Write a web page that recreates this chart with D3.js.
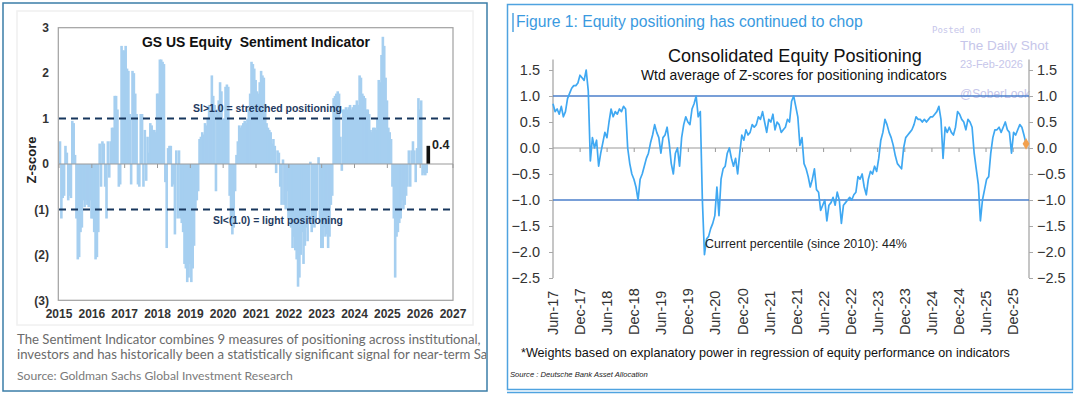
<!DOCTYPE html>
<html><head><meta charset="utf-8">
<script src="https://cdn.jsdelivr.net/npm/d3@7"></script>
<style>
body{margin:0;background:#fff;}
svg{display:block;}
</style></head><body>
<svg id="c" width="1077" height="397"></svg>
<script>
// ---------- Left chart: GS US Equity Sentiment Indicator (semi-monthly) ----------
const gsYearTicks = [2015,2016,2017,2018,2019,2020,2021,2022,2023,2024,2025,2026,2027];
const gsZTicks = [3,2,1,0,-1,-2,-3];
const gs2015 = [0.5,-1.2,-0.75,-0.7,0.4,0.25,-0.8,-0.7,-0.75,0.95,0.9,0.2,-1.2,-2.1,-2.05,-1.5,-1.4,-0.8,-0.95,-0.8,-0.9,-0.95,-0.8,-1.2];
const gs2016 = [-1.2,-1.5,-2.1,-2.05,-1.5,0.45,-0.5,0.5,0.45,-0.5,-1.2,0.5,-0.3,0.5,0.8,0.8,1.5,1.5,1.2,-0.5,-0.45,2.6,2.5,2.5];
const gs2017 = [2.6,2.1,2.05,1.1,-0.45,2.05,2.0,1.55,1.1,-0.45,-0.5,1.1,1.1,-0.5,0.75,-0.37,0.6,0.25,0.9,0.85,0.75,0.75,0.7,1.55];
const gs2018 = [1.55,2.3,2.3,2.25,2.2,-0.4,-1.85,0.35,0.4,0.4,-0.5,-0.45,-1.55,0.3,-1.2,0.3,-1.2,-1.3,-1.5,-2.2,-2.3,-2.6,-2.5,-2.2];
const gs2019 = [-2.6,-2.3,-1.8,-1.0,-0.8,-0.6,0.55,0.6,0.7,0.65,0.9,0.85,1.0,1.3,1.2,1.95,1.5,1.3,-0.6,1.2,1.4,1.8,1.6,1.0];
const gs2020 = [1.0,1.7,1.75,1.7,-0.7,-1.3,-1.55,-1.4,-0.6,0.2,0.5,0.85,0.8,0.85,0.9,0.95,0.9,1.0,1.2,1.55,2.25,2.2,2.1,1.85];
const gs2021 = [1.6,1.55,1.8,2.05,1.95,1.9,1.2,0.9,0.8,0.75,0.7,0.45,0.55,0.4,-0.2,0.3,0.25,-0.5,-0.9,0.1,-0.9,-1.0,-0.6,-1.2];
const gs2022 = [-1.2,-1.4,-1.85,-1.6,-1.9,-2.1,-2.7,-2.5,-2.0,-1.5,-2.2,-1.8,-1.4,-1.7,-1.2,0.05,-1.5,-1.3,-1.4,-1.2,-1.0,0.15,-1.3,-1.85];
const gs2023 = [-1.85,-1.4,-1.6,-1.55,-1.85,-1.6,-0.9,-0.7,1.45,1.5,1.55,1.6,1.55,0.6,-0.15,1.2,1.2,1.25,1.2,1.25,1.3,1.2,1.25,1.3];
const gs2024 = [1.3,1.4,1.3,1.95,1.9,1.55,1.5,1.45,1.2,1.2,1.1,0.75,0.7,0.8,0.8,0.75,1.0,1.85,1.8,2.4,2.8,2.6,1.9,1.4];
const gs2025 = [0.8,0.7,0.55,-0.5,-1.2,-2.5,-1.6,-1.5,-1.3,-1.2,-0.8,-1.0,-0.9,-0.7,-0.5,0.3,-0.5,0.3,0.5,0.3,-0.4,0.35,1.45,1.2];
const gs2026 = [1.4,-0.25,-0.2,-0.25,-0.2];
const gsCurrent = 0.4;
const gsStartYear = 2015, gsPerYear = 24;

// ---------- Right chart: DB Consolidated Equity Positioning (bi-weekly) ----------
const dbXLabels = ["Jun-17","Dec-17","Jun-18","Dec-18","Jun-19","Dec-19","Jun-20","Dec-20","Jun-21","Dec-21","Jun-22","Dec-22","Jun-23","Dec-23","Jun-24","Dec-24","Jun-25","Dec-25"];
const dbYTicks = [1.5,1.0,0.5,0.0,-0.5,-1.0,-1.5,-2.0,-2.5];
const dbBands = [1.0,-1.0];
const db2017_19 = [0.85,0.7,0.75,0.65,0.8,0.6,0.7,0.95,1.05,1.15,1.2,1.2,1.25,1.4,1.35,1.3,1.5,1.1,-0.25,0.2,0.0,0.15,-0.35,-0.1,0.1,0.3,0.2,0.5,0.75,0.6,0.7,0.65,0.75,0.7,0.8,0.75,0.0,-0.3,-0.5,-0.6,-0.75,-1.0,-0.6,-0.5,-0.35,-0.2,-0.1,0.1,0.25,0.45,0.3,0.2,-0.1,0.2,0.25,0.4,0.1,-0.3,-0.5,-0.1,0.0,-0.35,0.2,0.45];
const db2019_22 = [0.6,0.5,0.45,0.75,0.85,1.0,0.6,0.7,-1.0,-2.05,-1.75,-1.7,-1.55,-1.45,-1.3,-0.75,-1.3,-0.6,-0.4,-0.35,-0.1,0.0,-0.2,-0.35,-0.2,-0.5,-0.1,0.25,0.15,0.35,0.25,0.3,0.45,0.4,0.45,0.6,0.55,0.7,0.5,0.3,0.55,0.5,0.65,0.35,0.5,0.45,0.3,0.35,0.4,0.55,0.5,0.9,1.0,0.8,0.6,0.05,0.2,-0.3,-0.4,-0.55,-0.75,-0.6,-0.4,-0.8,-0.85,-1.2,-1.1,-1.0,-1.4,-1.1,-1.05,-0.95,-1.1,-0.85,-1.0,-1.45,-1.1,-1.05,-1.0,-0.95,-1.0,-0.9,-0.85,-0.55];
const db2023_26 = [-0.6,-0.5,-0.75,-0.9,-0.6,-0.45,-0.5,-0.35,-0.45,-0.2,0.15,0.3,0.55,0.45,0.3,0.2,0.05,-0.15,-0.3,-0.35,-0.4,0.0,0.2,0.25,0.3,0.35,0.45,0.6,0.55,0.55,0.5,0.55,0.5,0.55,0.6,0.6,0.65,0.7,0.8,0.55,-0.2,0.4,0.3,0.4,0.3,0.25,0.4,0.7,0.65,0.55,0.5,0.35,0.55,0.5,0.4,-0.1,-0.4,-0.7,-1.4,-1.0,-0.8,-0.6,-0.55,-0.1,0.2,0.35,0.35,0.4,0.3,0.4,0.5,0.35,0.3,-0.1,0.3,0.25,0.35,0.45,0.4,0.25,0.08];
const dbStart = new Date(2017, 5, 1), dbStepDays = 14;

// ================= drawing =================
const svg = d3.select("#c");
const ARIAL = "'Liberation Sans', Arial, sans-serif";

function fit(sel, target){
  const w = sel.node().getComputedTextLength();
  const fs = parseFloat(sel.attr("font-size"));
  sel.attr("font-size", (fs*target/w).toFixed(2));
}

// ----- Left panel -----
const L = svg.append("g");
L.append("rect").attr("x",3).attr("y",3).attr("width",484).attr("height",388)
  .attr("fill","#fff").attr("stroke","#3b7ea8").attr("stroke-width",1.5);
L.append("rect").attr("x",17).attr("y",11).attr("width",456).attr("height",314)
  .attr("fill","#fff").attr("stroke","#f0f0f0").attr("stroke-width",1.5);

const gsValues = [].concat(gs2015,gs2016,gs2017,gs2018,gs2019,gs2020,gs2021,gs2022,gs2023,gs2024,gs2025,gs2026);
const gx = d3.scaleLinear().domain([2015,2027]).range([59,453]);
const gy = d3.scaleLinear().domain([-3,3]).range([300.3,27.7]);

// bars
L.append("g").selectAll("rect").data(gsValues).join("rect")
  .attr("x",(d,i)=>gx(gsStartYear + i/gsPerYear)-0.3)
  .attr("width",2.6)
  .attr("y",d=>Math.min(gy(d),gy(0)))
  .attr("height",d=>Math.abs(gy(d)-gy(0)))
  .attr("fill","#a6cff0");
const curYear = gsStartYear + gsValues.length/gsPerYear;
L.append("rect").attr("x",gx(curYear)-0.5).attr("width",3.6)
  .attr("y",gy(gsCurrent)).attr("height",gy(0)-gy(gsCurrent)).attr("fill","#111");
L.append("text").attr("x",gx(curYear)+5).attr("y",gy(gsCurrent)+3)
  .attr("font-family",ARIAL).attr("font-weight","bold").attr("font-size",12.5).attr("fill","#222").text("0.4");

// frame
L.append("rect").attr("x",gx(2015)-0.7).attr("y",gy(3)).attr("width",gx(2027)-gx(2015)+0.7).attr("height",gy(-3)-gy(3))
  .attr("fill","none").attr("stroke","#a0a0a0").attr("stroke-width",1.2);
// zero axis
L.append("line").attr("x1",gx(2015)).attr("x2",gx(2027)).attr("y1",gy(0)).attr("y2",gy(0)).attr("stroke","#999").attr("stroke-width",1.2);
L.append("g").selectAll("line").data(gsYearTicks).join("line")
  .attr("x1",d=>gx(d)).attr("x2",d=>gx(d)).attr("y1",gy(0)).attr("y2",gy(0)+4).attr("stroke","#999");
// dashed thresholds
[1,-1].forEach(v=>{
  L.append("line").attr("x1",gx(2015)).attr("x2",gx(2027)).attr("y1",gy(v)).attr("y2",gy(v))
    .attr("stroke","#17365d").attr("stroke-width",2).attr("stroke-dasharray","7,5");
});
// y labels
L.append("g").selectAll("text").data(gsZTicks).join("text")
  .attr("x",49).attr("y",d=>gy(d)).attr("dy","0.36em").attr("text-anchor","end")
  .attr("font-family",ARIAL).attr("font-weight","bold").attr("font-size",12).attr("fill","#333")
  .text(d=>d<0?`(${-d})`:`${d}`);
// x labels
L.append("g").selectAll("text").data(gsYearTicks).join("text")
  .attr("x",d=>gx(d)).attr("y",318).attr("text-anchor","middle")
  .attr("font-family",ARIAL).attr("font-weight","bold").attr("font-size",12).attr("fill","#333")
  .text(d=>d);
L.append("text").attr("transform",`translate(31,160) rotate(-90)`).attr("text-anchor","middle").attr("dy","0.35em")
  .attr("font-family",ARIAL).attr("font-weight","bold").attr("font-size",13).attr("fill","#222").text("Z-score");
let t;
t = L.append("text").attr("x",142).attr("y",47).attr("font-family",ARIAL).attr("font-weight","bold")
  .attr("font-size",15.5).attr("fill","#111").attr("xml:space","preserve").text("GS US Equity  Sentiment Indicator"); fit(t,228);
t = L.append("text").attr("x",193).attr("y",112).attr("font-family",ARIAL).attr("font-weight","bold")
  .attr("font-size",11).attr("fill","#1f3a60").text("SI>1.0 = stretched positioning"); fit(t,149);
t = L.append("text").attr("x",213).attr("y",224).attr("font-family",ARIAL).attr("font-weight","bold")
  .attr("font-size",11).attr("fill","#1f3a60").text("SI<(1.0) = light positioning"); fit(t,130);

// caption
const clip = svg.append("defs").append("clipPath").attr("id","lc").append("rect").attr("x",3).attr("y",3).attr("width",483).attr("height",388);
const cap = L.append("g").attr("clip-path","url(#lc)");
t = cap.append("text").attr("x",17).attr("y",344).attr("font-family","Lato, 'Open Sans', sans-serif").attr("font-size",14).attr("fill","#6b6b6b")
  .text("The Sentiment Indicator combines 9 measures of positioning across institutional,"); fit(t,464);
const capFs = t.attr("font-size");
cap.append("text").attr("x",17).attr("y",359).attr("font-family","Lato, 'Open Sans', sans-serif").attr("font-size",capFs).attr("fill","#6b6b6b")
  .text("investors and has historically been a statistically significant signal for near-term Sa");
t = cap.append("text").attr("x",17).attr("y",380).attr("font-family","Lato, 'Open Sans', sans-serif").attr("font-size",13).attr("fill","#7a7a7a")
  .text("Source: Goldman Sachs Global Investment Research"); fit(t,276);

// ----- Right panel -----
const R = svg.append("g");
R.append("rect").attr("x",507.5).attr("y",4.5).attr("width",565).attr("height",385)
  .attr("fill","#fff").attr("stroke","#4fa3e0").attr("stroke-width",1.5);
R.append("line").attr("x1",507).attr("x2",1073).attr("y1",392.5).attr("y2",392.5).attr("stroke","#4fa3e0").attr("stroke-width",1.5);
R.append("line").attr("x1",513).attr("x2",513).attr("y1",13).attr("y2",32).attr("stroke","#4fa3e0").attr("stroke-width",1.5);
t = R.append("text").attr("x",516).attr("y",27).attr("font-family",ARIAL).attr("font-size",16).attr("fill","#3a9ae0")
  .text("Figure 1: Equity positioning has continued to chop"); fit(t,347);

const dbValues = [].concat(db2017_19,db2019_22,db2023_26);
const dbData = dbValues.map((v,i)=>({date:d3.timeDay.offset(dbStart,i*dbStepDays), v}));
const rx = d3.scaleTime().domain([new Date(2017,5,1), new Date(2026,2,18)]).range([553,1029]);
const ry = d3.scaleLinear().domain([-2.5,1.7]).range([278,59.6]);
const labelDates = dbXLabels.map(s=>d3.timeParse("%b-%y")(s));

// watermark
const wm = "#c6c6ea";
R.append("text").attr("x",932).attr("y",33).attr("font-family","'DejaVu Sans Mono', monospace").attr("font-size",9).attr("fill",wm).text("Posted on");
R.append("text").attr("x",960).attr("y",50).attr("font-family",ARIAL).attr("font-size",13.5).attr("fill",wm).text("The Daily Shot");
R.append("text").attr("x",960).attr("y",68).attr("font-family",ARIAL).attr("font-size",11).attr("fill",wm).text("23-Feb-2026");
t = R.append("text").attr("x",960).attr("y",98).attr("font-family",ARIAL).attr("font-size",14).attr("fill",wm).text("@SoberLook"); fit(t,70);

// axes lines
R.append("line").attr("x1",553).attr("x2",553).attr("y1",ry(1.7)).attr("y2",ry(-2.5)).attr("stroke","#a8a8a8").attr("stroke-width",1.3);
R.append("line").attr("x1",1029).attr("x2",1029).attr("y1",ry(1.7)).attr("y2",ry(-2.5)).attr("stroke","#a8a8a8").attr("stroke-width",1.3);
const yAxL = d3.axisLeft(ry).tickValues(dbYTicks).tickSize(4).tickFormat(d3.format(".1f"));
const yAxR = d3.axisRight(ry).tickValues(dbYTicks).tickSize(4).tickFormat(d3.format(".1f"));
function styleAxis(g){
  g.select(".domain").remove();
  g.selectAll("line").attr("stroke","#a8a8a8");
  g.selectAll("text").attr("font-family",ARIAL).attr("font-size",14.5).attr("fill","#333");
}
R.append("g").attr("transform","translate(553,0)").call(yAxL).call(styleAxis).selectAll("text").attr("x",-13);
R.append("g").attr("transform","translate(1029,0)").call(yAxR).call(styleAxis).selectAll("text").attr("x",8);
// zero line + ticks
R.append("line").attr("x1",553).attr("x2",1029).attr("y1",ry(0)).attr("y2",ry(0)).attr("stroke","#999").attr("stroke-width",1.2);
R.append("g").selectAll("line").data(labelDates.slice(1)).join("line")
  .attr("x1",d=>rx(d)).attr("x2",d=>rx(d)).attr("y1",ry(0)).attr("y2",ry(0)+4).attr("stroke","#999");
// bands
R.append("g").selectAll("line").data(dbBands).join("line")
  .attr("x1",553).attr("x2",1029).attr("y1",d=>ry(d)).attr("y2",d=>ry(d)).attr("stroke","#4b7fcb").attr("stroke-width",1.5);
// x labels
R.append("g").selectAll("text").data(labelDates).join("text")
  .attr("transform",d=>`translate(${rx(d)},335) rotate(-90)`).attr("dy","0.35em")
  .attr("font-family",ARIAL).attr("font-size",14.5).attr("fill","#333")
  .text((d,i)=>dbXLabels[i]);
// line
R.append("path").datum(dbData).attr("fill","none").attr("stroke","#3fa8f2").attr("stroke-width",1.7)
  .attr("stroke-linejoin","round")
  .attr("d",d3.line().x(d=>rx(d.date)).y(d=>ry(d.v)));
const last = dbData[dbData.length-1];
R.append("path").attr("d",d3.symbol(d3.symbolDiamond,40)()).attr("transform",`translate(${rx(last.date)},${ry(last.v)})`).attr("fill","#f2a04e");

// titles
t = R.append("text").attr("x",668).attr("y",62).attr("font-family",ARIAL).attr("font-size",19).attr("fill","#111")
  .text("Consolidated Equity Positioning"); fit(t,254);
t = R.append("text").attr("x",641).attr("y",80).attr("font-family",ARIAL).attr("font-size",14).attr("fill","#111")
  .text("Wtd average of Z-scores for positioning indicators"); fit(t,306);
t = R.append("text").attr("x",705).attr("y",248).attr("font-family",ARIAL).attr("font-size",14).attr("fill","#222")
  .text("Current percentile (since 2010): 44%"); fit(t,202);
t = R.append("text").attr("x",521).attr("y",357).attr("font-family",ARIAL).attr("font-size",13.5).attr("fill","#111")
  .text("*Weights based on explanatory power in regression of equity performance on indicators"); fit(t,489);
t = R.append("text").attr("x",510).attr("y",377).attr("font-family",ARIAL).attr("font-style","italic").attr("font-size",9).attr("fill","#222")
  .text("Source : Deutsche Bank Asset Allocation"); fit(t,138);
</script>
</body></html>
